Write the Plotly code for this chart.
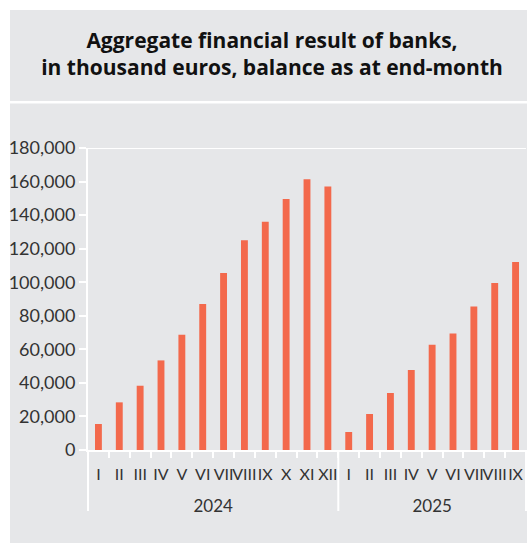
import plotly.graph_objects as go
from plotly.subplots import make_subplots

# Aggregate financial result of banks (thousand euros, end-of-month balance)
months_2024 = ["I", "II", "III", "IV", "V", "VI", "VII", "VIII", "IX", "X", "XI", "XII"]
values_2024 = [15500, 28400, 38300, 53400, 68700, 87000, 105500, 125000, 136000, 149600, 161300, 157100]

months_2025 = ["I", "II", "III", "IV", "V", "VI", "VII", "VIII", "IX"]
values_2025 = [10700, 21500, 34000, 47700, 62800, 69500, 85600, 99500, 112000]

y_ticks = [0, 20000, 40000, 60000, 80000, 100000, 120000, 140000, 160000, 180000]

BG = "#e6e7e9"
BAR = "#f3694c"
TXT = "#333333"
FONT = "Lato"

W, H = 527, 543
ML, MR, MT, MB = 88, 1, 148, 93
pw, ph = W - ML - MR, H - MT - MB


def px_x(p):
    return (p - ML) / pw


def px_y(p):
    return (H - MB - p) / ph


n24, n25 = len(months_2024), len(months_2025)
fig = make_subplots(rows=1, cols=2, shared_yaxes=True, horizontal_spacing=0,
                    column_widths=[n24, n25])

for col, (yr, m, v) in enumerate([("2024", months_2024, values_2024),
                                  ("2025", months_2025, values_2025)], start=1):
    fig.add_trace(go.Bar(x=m, y=v, name=yr, width=0.33,
                         marker=dict(color=BAR, line=dict(width=0)),
                         hovertemplate="%{x} " + yr + ": %{y:,}<extra></extra>"),
                  row=1, col=col)
    fig.update_xaxes(
        type="category", categoryorder="array", categoryarray=m,
        tickangle=0, showgrid=False,
        showline=True, linecolor="white", linewidth=2,
        ticks="outside", ticklen=6, tickcolor="white", tickwidth=2,
        tickson="boundaries", ticklabelstandoff=9,
        tickfont=dict(family=FONT, size=16, color=TXT),
        title=dict(text=yr, standoff=18, font=dict(family=FONT, size=17, color=TXT)),
        row=1, col=col,
    )

# grey panels: title box and chart box
fig.add_shape(type="rect", xref="paper", yref="paper",
              x0=px_x(10), x1=px_x(W + 2), y0=px_y(101), y1=px_y(10),
              fillcolor=BG, line_width=0, layer="below")
fig.add_shape(type="rect", xref="paper", yref="paper",
              x0=px_x(10), x1=px_x(W + 2), y0=px_y(H + 2), y1=px_y(103.5),
              fillcolor=BG, line_width=0, layer="below")
# top frame line of the plot area
fig.add_shape(type="line", xref="paper", yref="y",
              x0=px_x(80), x1=1, y0=180000, y1=180000,
              line=dict(color="white", width=2))
# year group separators below the category axis
for xs in (0, n24 / (n24 + n25), 1):
    fig.add_shape(type="line", xref="paper", yref="paper",
                  x0=xs, x1=xs, y0=0, y1=px_y(511),
                  line=dict(color="white", width=2))

fig.update_layout(
    width=W, height=H,
    margin=dict(l=ML, r=MR, t=MT, b=MB),
    paper_bgcolor="white",
    plot_bgcolor="rgba(0,0,0,0)",
    showlegend=False,
    bargap=0.67,
    title=dict(
        text="<b>Aggregate financial result of banks,<br>in thousand euros, balance as at end-month</b>",
        x=272 / W, xref="container", xanchor="center",
        y=1 - 48 / H, yref="container", yanchor="middle",
        font=dict(family="Open Sans", size=21, color="#111111"),
    ),
    font=dict(family=FONT, size=17, color=TXT),
)

fig.update_yaxes(
    range=[0, 180000],
    tickvals=y_ticks,
    tickformat=",",
    showgrid=False,
    zeroline=False,
)
fig.update_yaxes(
    showline=True, linecolor="white", linewidth=2,
    ticks="outside", ticklen=7, tickcolor="white", tickwidth=2,
    tickfont=dict(family=FONT, size=18, color=TXT),
    row=1, col=1,
)
fig.update_yaxes(showline=False, ticks="", showticklabels=False, row=1, col=2)

fig.write_html("out.html")
